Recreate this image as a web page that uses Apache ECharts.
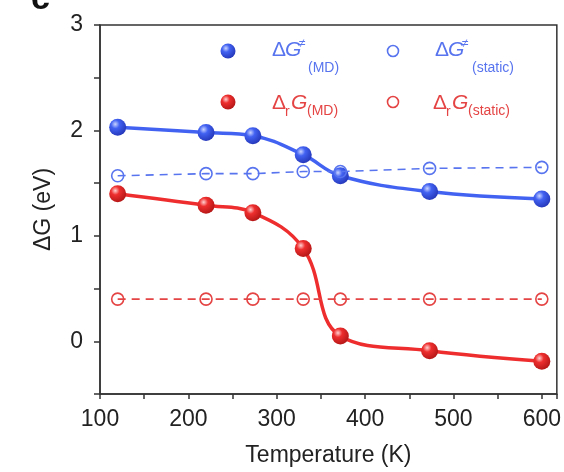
<!DOCTYPE html>
<html>
<head>
<meta charset="utf-8">
<script src="https://cdn.jsdelivr.net/npm/echarts@6/dist/echarts.min.js"></script>
<style>
  html, body { margin: 0; padding: 0; background: #fff; }
  #chart { width: 564px; height: 472px; }
</style>
</head>
<body>
<div id="chart"></div>
<script>
// Temperatures (K) at which the free energies were evaluated
const temperatures = [120, 220, 273, 330, 372, 473, 600];

// Activation free energy (eV)
const barrierMD     = [2.03, 1.98, 1.95, 1.77, 1.57, 1.42, 1.35];
const barrierStatic = [1.57, 1.59, 1.59, 1.61, 1.61, 1.64, 1.65];

// Reaction free energy (eV)
const reactionMD     = [1.40, 1.29, 1.22, 0.88, 0.05, -0.09, -0.19];
const reactionStatic = [0.40, 0.40, 0.40, 0.40, 0.40, 0.40, 0.40];

const xTicks = [100, 200, 300, 400, 500, 600];
const yTicks = [0, 1, 2, 3];

const BLUE = '#4262f2';
const BLUE_LIGHT = '#5874ee';
const RED = '#ee2e2e';
const RED_LIGHT = '#e54444';
const FONT = '"Liberation Sans", Arial, Helvetica, sans-serif';

function sphere(base, light, dark) {
  return {
    type: 'radial', x: 0.36, y: 0.32, r: 0.72,
    colorStops: [
      { offset: 0, color: light },
      { offset: 0.35, color: base },
      { offset: 1, color: dark }
    ]
  };
}
const blueBall = () => sphere(BLUE, '#c9d3ff', '#2436b8');
const redBall = () => sphere(RED, '#ffd0d0', '#b31616');

function pairs(ys) { return temperatures.map((t, i) => [t, ys[i]]); }

const chart = echarts.init(document.getElementById('chart'), null, { renderer: 'canvas' });

function txt(x, y, text, size, color, extra) {
  return { type: 'text', x, y, z: 100,
    style: Object.assign({ text, fontSize: size, fill: color, fontFamily: FONT }, extra || {}) };
}

chart.setOption({
  animation: false,
  backgroundColor: '#fff',
  grid: { left: 100, right: 7, top: 25, bottom: 77, show: true, borderColor: '#333', borderWidth: 1.5 },
  xAxis: {
    type: 'value', min: 100, max: 617, interval: 50,
    axisLine: { show: true, onZero: false, lineStyle: { color: '#333', width: 1.5 } },
    axisTick: { show: true, inside: false, length: 5, lineStyle: { color: '#333', width: 1.5 } },
    axisLabel: {
      fontSize: 23, color: '#222', fontFamily: FONT, margin: 14,
      formatter: v => (xTicks.includes(v) ? String(v) : '')
    },
    splitLine: { show: false },
    name: 'Temperature (K)', nameLocation: 'middle', nameGap: 50,
    nameTextStyle: { fontSize: 23, color: '#222', fontFamily: FONT }
  },
  yAxis: {
    type: 'value', min: -0.5, max: 3, interval: 0.5,
    axisLine: { show: true, onZero: false, lineStyle: { color: '#333', width: 1.5 } },
    axisTick: { show: true, inside: false, length: 6, lineStyle: { color: '#333', width: 1.5 } },
    axisLabel: {
      fontSize: 23, color: '#222', fontFamily: FONT, margin: 17,
      formatter: v => (yTicks.includes(v) ? String(v) : '')
    },
    splitLine: { show: false },
    name: 'ΔG (eV)', nameLocation: 'middle', nameGap: 45, nameRotate: 90,
    nameTextStyle: { fontSize: 23, color: '#222', fontFamily: FONT }
  },
  series: [
    {
      name: 'barrierMD', type: 'line', data: pairs(barrierMD),
      smooth: 0.4,
      lineStyle: { color: BLUE, width: 3.5 },
      symbol: 'circle', symbolSize: 17,
      itemStyle: { color: blueBall() }, z: 3
    },
    {
      name: 'reactionMD', type: 'line', data: pairs(reactionMD),
      smooth: 0.4,
      lineStyle: { color: RED, width: 3.5 },
      symbol: 'circle', symbolSize: 17,
      itemStyle: { color: redBall() }, z: 3
    },
    {
      name: 'barrierStatic', type: 'line', data: pairs(barrierStatic),
      lineStyle: { color: BLUE_LIGHT, width: 1.6, type: [8, 6] },
      symbol: 'circle', symbolSize: 12,
      itemStyle: { color: 'rgba(0,0,0,0)', borderColor: BLUE_LIGHT, borderWidth: 1.6 }, z: 4
    },
    {
      name: 'reactionStatic', type: 'line', data: pairs(reactionStatic),
      lineStyle: { color: RED_LIGHT, width: 1.6, type: [8, 6] },
      symbol: 'circle', symbolSize: 12,
      itemStyle: { color: 'rgba(0,0,0,0)', borderColor: RED_LIGHT, borderWidth: 1.6 }, z: 4
    }
  ],
  graphic: [
    // panel letter, cropped by the top edge
    { type: 'text', x: 31, y: -17, style: { text: 'c', fontSize: 34, fontWeight: 'bold', fill: '#111', fontFamily: FONT } },

    // legend markers
    { type: 'circle', shape: { cx: 228, cy: 51, r: 7.5 }, style: { fill: blueBall() }, z: 100 },
    { type: 'circle', shape: { cx: 228, cy: 102, r: 7.5 }, style: { fill: redBall() }, z: 100 },
    { type: 'circle', shape: { cx: 393, cy: 51, r: 5.5 }, style: { fill: 'none', stroke: BLUE_LIGHT, lineWidth: 1.6 }, z: 100 },
    { type: 'circle', shape: { cx: 393, cy: 102, r: 5.5 }, style: { fill: 'none', stroke: RED_LIGHT, lineWidth: 1.6 }, z: 100 },

    // ΔG≠(MD)
    txt(272, 40, 'Δ', 21, BLUE_LIGHT),
    txt(285, 40, 'G', 21, BLUE_LIGHT, { fontStyle: 'italic' }),
    txt(299, 38, '≠', 12, BLUE_LIGHT),
    txt(308, 61, '(MD)', 14, BLUE_LIGHT),

    // ΔG≠(static)
    txt(435, 40, 'Δ', 21, BLUE_LIGHT),
    txt(448, 40, 'G', 21, BLUE_LIGHT, { fontStyle: 'italic' }),
    txt(462, 38, '≠', 12, BLUE_LIGHT),
    txt(472, 61, '(static)', 14, BLUE_LIGHT),

    // ΔrG(MD)
    txt(272, 93, 'Δ', 21, RED_LIGHT),
    txt(285, 105, 'r', 14, RED_LIGHT),
    txt(291, 93, 'G', 21, RED_LIGHT, { fontStyle: 'italic' }),
    txt(307, 104, '(MD)', 14, RED_LIGHT),

    // ΔrG(static)
    txt(433, 93, 'Δ', 21, RED_LIGHT),
    txt(446, 105, 'r', 14, RED_LIGHT),
    txt(452, 93, 'G', 21, RED_LIGHT, { fontStyle: 'italic' }),
    txt(468, 104, '(static)', 14, RED_LIGHT)
  ]
});
</script>
</body>
</html>
